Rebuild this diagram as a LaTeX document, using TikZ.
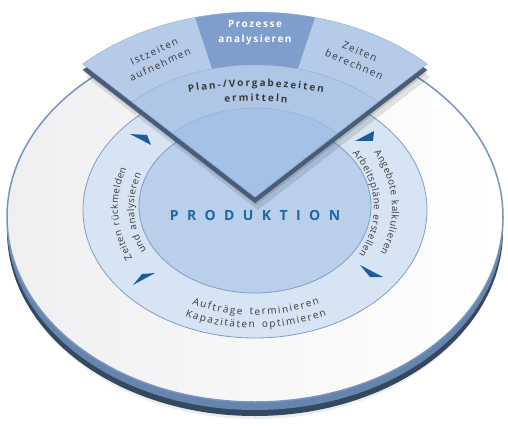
\documentclass[tikz,border=0pt]{standalone}
\usepackage{fontspec}
\setmainfont{Open Sans}
\newfontfamily\ringfont[LetterSpace=15]{Open Sans}
\newfontfamily\logofont[LetterSpace=60]{Open Sans}
\usetikzlibrary{decorations.text}

\definecolor{rimdark}{HTML}{34485F}
\definecolor{rimblue}{HTML}{6685AE}
\definecolor{discedge}{HTML}{7894BC}
\definecolor{discshade}{HTML}{EFEFF2}
\definecolor{ringface}{HTML}{D7E4F3}
\definecolor{ringedge}{HTML}{7F9DC6}
\definecolor{coreface}{HTML}{B9CFEA}
\definecolor{wedgeouter}{HTML}{B5CBE7}
\definecolor{wedgeprozess}{HTML}{7F9ECC}
\definecolor{wedgemiddle}{HTML}{AFC7E7}
\definecolor{wedgeinner}{HTML}{A5C1E7}
\definecolor{wedgeline}{HTML}{8EADD6}
\definecolor{wedgeside}{HTML}{4B5C78}
\definecolor{arrowblue}{HTML}{1D5C9C}
\definecolor{labelgray}{HTML}{3A3A3A}
\definecolor{produktion}{HTML}{2067A6}

\newcommand\sectorpath[2]{(0,0) -- (134:#1pt and #2pt) arc[start angle=134, end angle=46, x radius=#1pt, y radius=#2pt] -- cycle}

\tikzset{
  ringtext/.style={decorate, decoration={text along path, text align=center, text color=labelgray,
      text={|\ringfont\fontsize{10}{12}\selectfont\kern1.6pt|#1}}},
  sidetext/.style={decorate, decoration={text along path, text align=center, text color=labelgray,
      text={|\ringfont\fontsize{9.6}{12}\selectfont\kern0.5pt|#1}}},
  plantext/.style={decorate, decoration={text along path, text align=center, text color=labelgray,
      text={|\ringfont\bfseries\fontsize{10}{12}\selectfont\kern1.9pt|#1}}},
  wedgelabel/.style={font=\ringfont\fontsize{10}{14}\selectfont, text=labelgray, align=center, inner sep=0pt}
}

\begin{document}
\begin{tikzpicture}[x=1pt, y=1pt]
\useasboundingbox (0,0) rectangle (508,437);
\coordinate (disc) at (255,220);
\coordinate (ring) at (255,227);
\coordinate (core) at (255,231);

\fill[black!7] ([yshift=-20]disc) ellipse[x radius=244pt, y radius=182pt];
\fill[rimdark] ([yshift=-14]disc) ellipse[x radius=248pt, y radius=185pt];
\fill[rimblue] ([yshift=-8]disc) ellipse[x radius=248pt, y radius=185pt];
\shade[left color=discshade, right color=white] (disc) ellipse[x radius=248pt, y radius=185pt];
\draw[discedge, line width=1.5pt] (disc) ellipse[x radius=248pt, y radius=185pt];
\filldraw[fill=ringface, draw=ringedge, line width=0.8pt] (ring) ellipse[x radius=172pt, y radius=128pt];
\filldraw[fill=coreface, draw=ringedge, line width=0.8pt] (core) ellipse[x radius=116pt, y radius=87pt];

\fill[arrowblue] (130,303) -- (147,302) -- (151,292) -- cycle;
\fill[arrowblue] (355,296) -- (374,306) -- (373,296) -- cycle;
\fill[arrowblue] (360,172) -- (383,160) -- (370,160) -- cycle;
\fill[arrowblue] (133,152) -- (155,164) -- (142,163) -- cycle;

\begin{scope}[shift={(255,229)}]
  \path[sidetext={Zeiten rückmelden}] (220:137pt and 112pt) arc[start angle=220, end angle=146, x radius=137pt, y radius=112pt];
  \path[sidetext={und analysieren}] (220:121pt and 97pt) arc[start angle=220, end angle=146, x radius=121pt, y radius=97pt];
  \path[sidetext={Angebote kalkulieren}] (40:137pt and 111pt) arc[start angle=40, end angle=-34, x radius=137pt, y radius=111pt];
  \path[sidetext={Arbeitspläne erstellen}] (40:119pt and 95pt) arc[start angle=40, end angle=-34, x radius=119pt, y radius=95pt];
  \path[ringtext={Aufträge terminieren}] (225:144pt and 107pt) arc[start angle=225, end angle=315, x radius=144pt, y radius=107pt];
  \path[ringtext={Kapazitäten optimieren}] (225:161pt and 120pt) arc[start angle=225, end angle=315, x radius=161pt, y radius=120pt];
\end{scope}

\node[font=\logofont\bfseries\fontsize{14}{14}\selectfont, text=produktion] (produktion) at (255,222) {PRODUKTION};

\begin{scope}[shift={(258,227)}]
  \fill[black, opacity=0.10] \sectorpath{248}{185};
\end{scope}
\begin{scope}[shift={(256,232)}]
  \fill[black, opacity=0.12] \sectorpath{248}{185};
\end{scope}
\begin{scope}[shift={(255,234)}]
  \fill[wedgeside] \sectorpath{248}{185};
\end{scope}
\begin{scope}[shift={(255,240)}]
  \fill[wedgeouter] \sectorpath{248}{185};
  \fill[wedgeprozess] (104:177pt and 132pt) -- (104:248pt and 185pt) arc[start angle=104, end angle=76, x radius=248pt, y radius=185pt]
    -- (76:177pt and 132pt) arc[start angle=76, end angle=104, x radius=177pt, y radius=132pt] -- cycle;
  \filldraw[fill=wedgemiddle, draw=wedgeline] \sectorpath{177}{132};
  \filldraw[fill=wedgeinner, draw=wedgeline] \sectorpath{118}{89};
  \draw[wedgeline] \sectorpath{248}{185};
\end{scope}

\node[wedgelabel, rotate=25] (istzeiten) at (157,379) {Istzeiten\\aufnehmen};
\node[wedgelabel, rotate=-24] (zeiten) at (357,379) {Zeiten\\berechnen};
\node[wedgelabel, font=\ringfont\bfseries\fontsize{10}{15}\selectfont, text=white] (prozesse) at (255,404) {Prozesse\\analysieren};
\path[plantext={Plan-/Vorgabezeiten}] (165,340) .. controls (222,354) and (288,354) .. (345,340);
\path[plantext={ermitteln}] (195,330) .. controls (232,338) and (278,338) .. (315,330);
\end{tikzpicture}
\end{document}
